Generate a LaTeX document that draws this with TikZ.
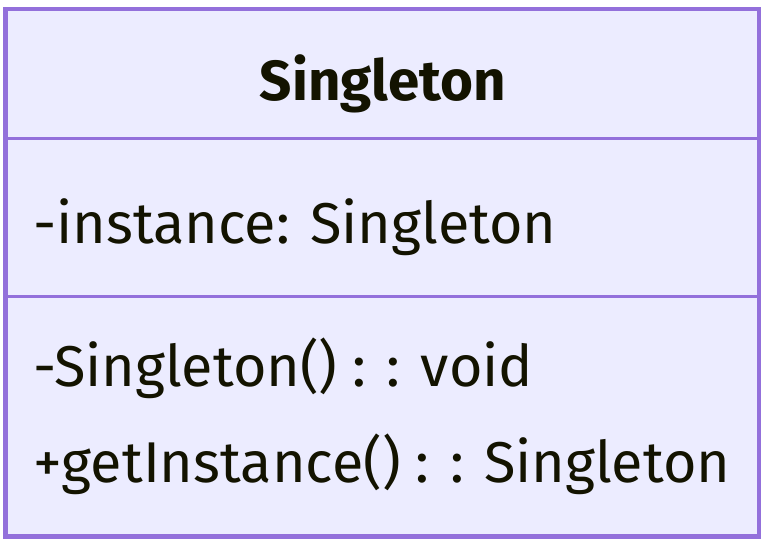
\documentclass[tikz,border=0pt]{standalone}
\usepackage{fontspec}
\setmainfont{Fira Sans}
\definecolor{boxfill}{HTML}{ECECFF}
\definecolor{boxline}{HTML}{9370DB}
\definecolor{txt}{HTML}{131300}
\begin{document}
\begin{tikzpicture}[x=1pt,y=-1pt,
  member/.style={anchor=base west,inner sep=0pt,text=txt,font=\fontsize{57.5}{60}\selectfont},
  title/.style={anchor=base,inner sep=0pt,text=txt,font=\bfseries\fontsize{56.5}{60}\selectfont}]
\useasboundingbox[fill=white] (0,0) rectangle (768,547);
\draw[fill=boxfill,draw=boxline,line width=4.5pt] (5.5,9) rectangle (759,536.5);
\draw[draw=boxline,line width=3pt] (7,138) -- (757,138);
\draw[draw=boxline,line width=3pt] (7,296) -- (757,296);
\node[title] (name) at (383,100) {Singleton};
\node[member] (attr) at (33,243) {-instance: Singleton};
\node[member] (m1) at (33,386) {-Singleton() : : void};
\node[member] (m2) at (33,482) {+getInstance() : : Singleton};
\end{tikzpicture}
\end{document}
